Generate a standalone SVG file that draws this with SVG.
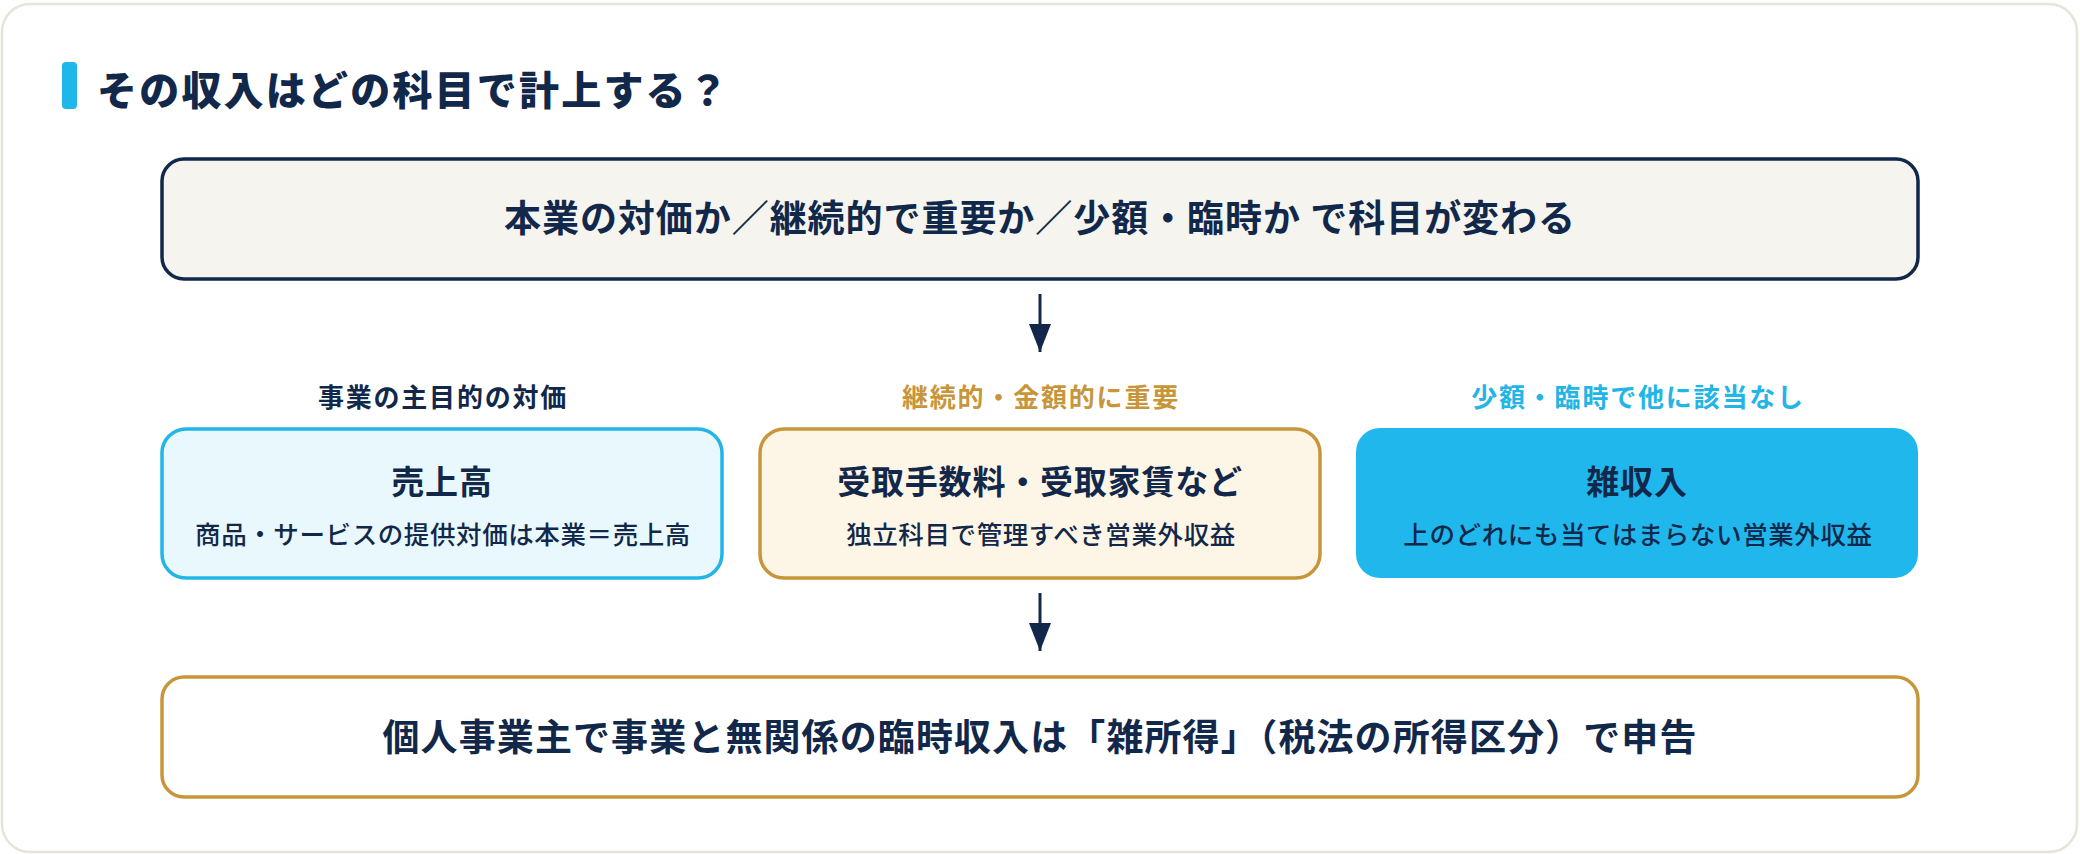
<svg xmlns="http://www.w3.org/2000/svg" width="2080" height="854" viewBox="0 0 2080 854">
  <defs>
    <style>
      .jp { font-family: "Noto Sans CJK JP", "Noto Sans", sans-serif; }
      .title { font-size: 40px; font-weight: 900; fill: #12284a; letter-spacing: 2.2px; }
      .banner { font-size: 37px; font-weight: 700; fill: #12284a; text-anchor: middle; letter-spacing: 0.95px; }
      .banner2 { font-size: 37px; font-weight: 700; fill: #12284a; text-anchor: middle; letter-spacing: 1.1px; }
      .cat { font-size: 26px; font-weight: 700; text-anchor: middle; letter-spacing: 1.8px; }
      .head { font-size: 33px; font-weight: 700; fill: #12284a; text-anchor: middle; letter-spacing: 0.8px; }
      .sub { font-size: 25.5px; font-weight: 500; fill: #12284a; text-anchor: middle; letter-spacing: 0.6px; }
      .conn { stroke: #12284a; stroke-width: 3; fill: none; }
    </style>
    <marker id="arrow" viewBox="0 0 28 22" refX="28" refY="11" markerWidth="28" markerHeight="22" markerUnits="userSpaceOnUse" orient="auto">
      <path d="M0,0 L28,11 L0,22 Z" fill="#12284a"/>
    </marker>
  </defs>

  <rect x="2" y="4" width="2075" height="848" rx="28" fill="#ffffff" stroke="#e6e3d8" stroke-width="2.5"/>

  <g id="title">
    <rect x="62" y="62" width="15" height="47" rx="4" fill="#1fb6ea"/>
    <text class="jp title" x="97" y="105">その収入はどの科目で計上する？</text>
  </g>

  <g id="top">
    <rect x="162" y="159" width="1756" height="120" rx="22" fill="#f5f4ef" stroke="#12284a" stroke-width="3.5"/>
    <text class="jp banner" x="1040" y="232">本業の対価か／継続的で重要か／少額・臨時か で科目が変わる</text>
  </g>

  <g id="sales">
    <text class="jp cat" x="443" y="407" fill="#12284a">事業の主目的の対価</text>
    <rect x="162" y="429" width="560" height="149" rx="24" fill="#e9f8fd" stroke="#22b5e6" stroke-width="3.5"/>
    <text class="jp head" x="442" y="494">売上高</text>
    <text class="jp sub" x="443" y="544">商品・サービスの提供対価は本業＝売上高</text>
  </g>

  <g id="fees">
    <text class="jp cat" x="1041" y="407" fill="#c8963a">継続的・金額的に重要</text>
    <rect x="760" y="429" width="560" height="149" rx="24" fill="#fdf5e6" stroke="#c8963a" stroke-width="3.5"/>
    <text class="jp head" x="1040" y="494">受取手数料・受取家賃など</text>
    <text class="jp sub" x="1041" y="544">独立科目で管理すべき営業外収益</text>
  </g>

  <g id="misc">
    <text class="jp cat" x="1638" y="407" fill="#22b5e6">少額・臨時で他に該当なし</text>
    <rect x="1356" y="428" width="562" height="150" rx="24" fill="#20b8ec"/>
    <text class="jp head" x="1637" y="494">雑収入</text>
    <text class="jp sub" x="1638" y="544">上のどれにも当てはまらない営業外収益</text>
  </g>

  <g id="bottom">
    <rect x="162" y="677" width="1756" height="120" rx="22" fill="#ffffff" stroke="#c8963a" stroke-width="3.5"/>
    <text class="jp banner2" x="1040" y="751">個人事業主で事業と無関係の臨時収入は「雑所得」（税法の所得区分）で申告</text>
  </g>

  <g id="connectors">
    <line class="conn" x1="1040" y1="294" x2="1040" y2="352" marker-end="url(#arrow)"/>
    <line class="conn" x1="1040" y1="593" x2="1040" y2="651" marker-end="url(#arrow)"/>
  </g>
</svg>
